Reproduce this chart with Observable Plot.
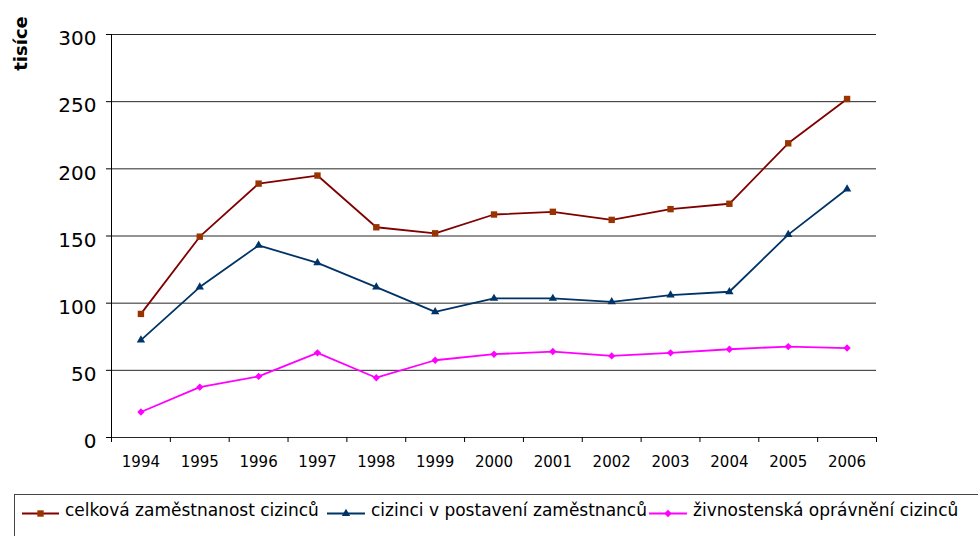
<!DOCTYPE html>
<html>
<head>
<meta charset="utf-8">
<script src="https://cdn.jsdelivr.net/npm/d3@7"></script>
<script src="https://cdn.jsdelivr.net/npm/@observablehq/plot@0.6"></script>
<style>
  html, body { margin: 0; padding: 0; background: #fff; }
  #wrap { position: relative; width: 978px; height: 536px; overflow: hidden; font-family: "DejaVu Sans", Verdana, sans-serif; }
  #legend { position: absolute; left: 14px; top: 494px; width: 1000px; height: 80px; border: 1px solid #444; box-sizing: border-box; }
  .item { position: absolute; top: 0; height: 40px; }
  .item svg { position: absolute; left: 0; top: 0; }
  .item span { position: absolute; top: 5px; font-size: 17px; white-space: nowrap; color: #000; }
</style>
</head>
<body>
<div id="wrap"><div id="chart"></div><div id="legend"></div></div>
<script>
const years = [1994, 1995, 1996, 1997, 1998, 1999, 2000, 2001, 2002, 2003, 2004, 2005, 2006];
const totalEmployment = [92, 149.5, 189, 195, 156.5, 152, 166, 168, 162, 170, 174, 219, 252];
const employees = [72.5, 112, 143, 130, 112, 93.5, 103.5, 103.5, 101, 106, 108.5, 151, 185];
const tradeLicences = [19, 37.5, 45.5, 63, 44.5, 57.5, 62, 64, 60.7, 63, 65.7, 67.7, 66.6];
const seriesNames = ["celková zaměstnanost cizinců", "cizinci v postavení zaměstnanců", "živnostenská oprávnění cizinců"];
const yTicks = [0, 50, 100, 150, 200, 250, 300];
const yLabel = "tisíce";

const seriesValues = [totalEmployment, employees, tradeLicences];
const lineColors = ["#800000", "#003366", "#FF00FF"];
const markColors = ["#993300", "#003366", "#FF00FF"];
const symbols = ["square", "triangle", "diamond2"];
const radii = [3.6, 3.1, 3.3];

const tables = seriesValues.map((vals, i) => years.map((y, j) => ({year: y, value: vals[j], series: seriesNames[i]})));
const bandEdges = years.map(y => y - 0.5).concat([years[years.length - 1] + 0.5]);

const marks = [
  Plot.ruleY(yTicks, {stroke: "#000", strokeWidth: 1, strokeOpacity: 0.85}),
  Plot.ruleX([bandEdges[0]], {stroke: "#000", strokeWidth: 1}),
  Plot.ruleX(bandEdges, {y1: 0, y2: 0, insetBottom: -5, stroke: "#000", strokeWidth: 1}),
  Plot.text([yLabel], {frameAnchor: "top-left", dx: -97, dy: 9, rotate: -90, fontWeight: "bold", fontSize: 18, textAnchor: "middle"})
];
tables.forEach((t, i) => {
  marks.push(Plot.line(t, {x: "year", y: "value", stroke: lineColors[i], strokeWidth: 1.8}));
  marks.push(Plot.dot(t, {x: "year", y: "value", symbol: () => symbols[i], r: radii[i], fill: markColors[i], stroke: "none"}));
});

const chart = Plot.plot({
  width: 978,
  height: 488,
  marginTop: 34,
  marginBottom: 51,
  marginLeft: 111,
  marginRight: 102,
  style: {fontFamily: "DejaVu Sans, Verdana, sans-serif", fontSize: "15px", color: "#000", background: "#fff"},
  x: {type: "linear", domain: [bandEdges[0], bandEdges[bandEdges.length - 1]], ticks: years, tickSize: 0, tickPadding: 19, tickFormat: d => String(d), label: null},
  y: {domain: [yTicks[0], yTicks[yTicks.length - 1]], ticks: yTicks, tickSize: 5, tickPadding: 10, label: null},
  symbol: {type: "identity"},
  marks
});
document.getElementById("chart").appendChild(chart);

// font sizes of the axes
const svgSel = d3.select(chart.tagName.toLowerCase() === "svg" ? chart : chart.querySelector("svg"));
svgSel.selectAll("g").filter(function() {
  const a = this.getAttribute("aria-label") || "";
  return a.startsWith("y-axis");
}).selectAll("text").attr("font-size", 20).attr("dy", "0.22em");
svgSel.selectAll("g").filter(function() {
  const a = this.getAttribute("aria-label") || "";
  return a.startsWith("x-axis");
}).selectAll("text").attr("font-size", 15);

// legend
const legend = d3.select("#legend");
const itemLefts = [7, 312, 634];
const lineLens = [37, 38, 38];
const symbolTypes = [d3.symbolSquare, d3.symbolTriangle, d3.symbolDiamond2];
seriesNames.forEach((name, i) => {
  const item = legend.append("div").attr("class", "item").style("left", itemLefts[i] + "px");
  const svg = item.append("svg").attr("width", 50).attr("height", 40);
  svg.append("line").attr("x1", 0).attr("x2", lineLens[i]).attr("y1", 18.5).attr("y2", 18.5)
    .attr("stroke", lineColors[i]).attr("stroke-width", 2);
  svg.append("path").attr("transform", `translate(${lineLens[i] / 2},18.5)`)
    .attr("d", d3.symbol(symbolTypes[i], Math.PI * radii[i] * radii[i])())
    .attr("fill", markColors[i]);
  item.append("span").style("left", (lineLens[i] + 6) + "px").text(name);
});
</script>
</body>
</html>
